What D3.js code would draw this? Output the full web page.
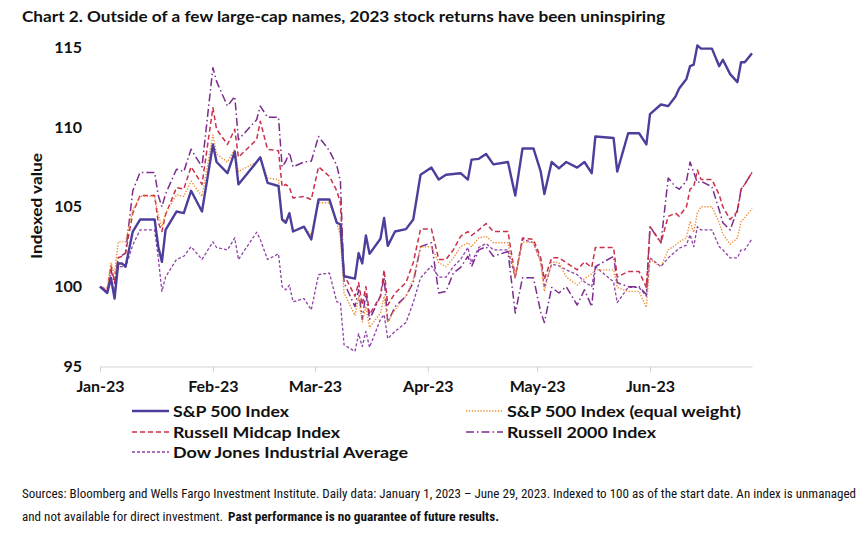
<!DOCTYPE html>
<html>
<head>
<meta charset="utf-8">
<script src="https://cdn.jsdelivr.net/npm/d3@7"></script>
<style>
  body { margin: 0; background: #fff; }
  text { font-family: Lato, "Open Sans", sans-serif; fill: #111; }
  .note { font-family: "Liberation Sans Narrow", "Roboto Condensed", Lato, sans-serif; }
</style>
</head>
<body>
<div class="canvas"></div>
<script>
// DATA (indexed to 100 at the start date)
const dates = [
  '2023-01-01','2023-01-03','2023-01-04','2023-01-05','2023-01-06','2023-01-07','2023-01-08','2023-01-10','2023-01-12','2023-01-16',
  '2023-01-17','2023-01-18','2023-01-19','2023-01-22','2023-01-24','2023-01-26','2023-01-29','2023-02-01','2023-02-02','2023-02-05',
  '2023-02-07','2023-02-08','2023-02-13','2023-02-14','2023-02-16','2023-02-19','2023-02-20','2023-02-21','2023-02-22','2023-02-23',
  '2023-02-26','2023-02-28','2023-03-02','2023-03-05','2023-03-07','2023-03-08','2023-03-09','2023-03-12','2023-03-13','2023-03-14',
  '2023-03-15','2023-03-16','2023-03-19','2023-03-20','2023-03-21','2023-03-23','2023-03-26','2023-03-28','2023-03-30','2023-04-02',
  '2023-04-04','2023-04-06','2023-04-08','2023-04-10','2023-04-12','2023-04-13','2023-04-15','2023-04-17','2023-04-19','2023-04-23',
  '2023-04-25','2023-04-27','2023-04-30','2023-05-02','2023-05-03','2023-05-05','2023-05-07','2023-05-09','2023-05-12','2023-05-14',
  '2023-05-16','2023-05-17','2023-05-22','2023-05-23','2023-05-26','2023-05-29','2023-05-31','2023-06-01','2023-06-04','2023-06-06',
  '2023-06-08','2023-06-09','2023-06-11','2023-06-12','2023-06-13','2023-06-14','2023-06-15','2023-06-18','2023-06-20','2023-06-21',
  '2023-06-23','2023-06-25','2023-06-26','2023-06-27','2023-06-29'
];

const sp500 = [
  100.0, 99.6, 100.55, 99.25, 101.45, 101.45, 101.25, 103.45, 104.2, 104.2,
  102.5, 101.55, 103.55, 104.7, 104.6, 106.0, 104.7, 108.9, 107.8, 107.1,
  108.45, 106.4, 107.8, 108.1, 106.5, 106.3, 104.2, 104.0, 104.6, 103.45,
  103.75, 102.95, 105.45, 105.45, 104.0, 103.9, 100.65, 100.5, 102.1, 101.45,
  103.2, 102.05, 103.0, 104.3, 102.55, 103.45, 103.6, 104.2, 107.0, 107.45,
  106.7, 107.0, 107.05, 107.1, 106.7, 107.95, 108.0, 108.3, 107.65, 107.8,
  105.7, 108.65, 108.65, 107.2, 105.8, 107.8, 107.4, 107.8, 107.45, 107.8,
  107.1, 109.4, 109.3, 107.2, 109.6, 109.6, 108.9, 110.8, 111.4, 111.3,
  111.9, 112.4, 113.0, 113.8, 113.9, 115.1, 114.9, 114.9, 113.8, 114.2,
  113.3, 112.8, 114.05, 114.05, 114.6
];

const spEqual = [
  100.0, 99.9, 101.5, 100.8, 102.8, 102.8, 102.8, 104.8, 105.65, 105.65,
  104.5, 103.75, 104.6, 105.75, 105.65, 106.6, 105.65, 109.5, 108.3, 107.8,
  108.6, 107.2, 107.8, 108.1, 106.8, 106.7, 104.3, 104.1, 104.5, 103.5,
  103.7, 103.25, 105.25, 105.25, 104.0, 103.15, 99.6, 98.2, 99.35, 97.8,
  98.75, 97.45, 98.35, 99.4, 97.8, 98.55, 99.4, 100.45, 102.5, 102.5,
  101.5, 101.25, 101.8, 102.5, 102.75, 102.5, 103.05, 103.15, 102.75, 102.75,
  100.6, 102.8, 102.75, 101.5, 99.7, 101.55, 101.5, 100.6, 100.1, 100.5,
  100.8, 101.05, 101.05, 99.95, 99.7, 99.7, 98.7, 101.7, 101.25, 102.3,
  102.6, 102.8, 103.05, 104.1, 103.4, 104.6, 105.0, 105.0, 104.0, 103.3,
  102.65, 103.05, 104.1, 104.3, 104.9
];

const midcap = [
  100.0, 99.8, 101.3, 100.3, 101.8, 101.9, 102.1, 104.6, 105.7, 105.7,
  104.0, 103.45, 104.5, 106.2, 106.1, 107.5, 106.4, 111.2, 109.85, 108.9,
  109.85, 108.1, 109.2, 110.35, 108.6, 108.5, 106.25, 106.4, 106.2, 105.55,
  105.65, 105.45, 107.5, 106.9, 106.0, 105.25, 100.75, 99.4, 100.25, 98.85,
  100.0, 98.25, 99.4, 101.05, 98.85, 99.6, 100.25, 101.5, 103.6, 103.6,
  101.7, 101.7, 102.3, 103.15, 103.45, 103.2, 103.55, 103.95, 103.45, 103.45,
  100.6, 103.05, 102.95, 101.8, 100.45, 101.8, 101.8, 101.5, 101.05, 101.55,
  101.2, 102.45, 102.45, 100.6, 100.95, 100.95, 99.95, 103.75, 102.75, 104.4,
  104.6, 104.4, 105.0, 106.1, 106.25, 107.3, 106.7, 106.7, 105.75, 105.0,
  104.2, 104.7, 106.1, 106.4, 107.15
];

const russell2000 = [
  100.0, 99.6, 101.05, 100.2, 101.8, 101.95, 102.1, 106.0, 107.15, 107.15,
  105.7, 105.0, 105.8, 107.35, 107.2, 108.6, 107.5, 113.7, 112.85, 111.3,
  111.9, 109.2, 110.45, 111.3, 110.6, 110.6, 107.5, 107.85, 108.4, 107.5,
  107.8, 107.85, 109.4, 108.5, 107.6, 106.6, 100.25, 98.75, 99.8, 97.95,
  99.6, 97.95, 99.4, 100.6, 97.75, 98.75, 99.4, 100.25, 102.5, 102.75,
  99.6, 99.7, 100.85, 101.2, 101.9, 101.25, 102.3, 102.5, 101.9, 102.2,
  98.35, 100.55, 100.55, 98.4, 97.75, 99.95, 99.6, 100.0, 98.85, 99.8,
  98.75, 101.25, 101.9, 100.25, 100.0, 100.0, 99.5, 103.75, 102.75, 106.8,
  106.25, 106.1, 106.6, 107.8, 107.15, 106.5, 106.6, 106.25, 104.8, 104.0,
  103.55, 104.8, 106.1, 106.4, 107.15
];

const dowJones = [
  100.0, 99.7, 100.5, 99.6, 101.25, 101.25, 101.2, 102.6, 103.55, 103.55,
  101.8, 99.7, 100.6, 101.7, 101.9, 102.5, 101.7, 102.8, 102.45, 102.3,
  103.05, 101.7, 103.4, 102.95, 101.7, 102.05, 100.0, 99.8, 100.1, 99.05,
  99.25, 98.55, 100.75, 100.85, 99.05, 99.0, 96.35, 95.95, 97.05, 96.25,
  97.2, 96.2, 97.95, 98.25, 96.75, 97.2, 97.75, 99.0, 100.55, 101.3,
  100.6, 100.6, 101.25, 101.7, 102.45, 101.5, 102.45, 102.7, 102.3, 102.3,
  100.55, 102.95, 102.75, 101.6, 99.95, 101.4, 101.3, 101.05, 100.75, 100.3,
  100.0, 101.25, 100.3, 99.0, 99.95, 99.95, 99.4, 101.8, 101.25, 101.8,
  102.2, 102.4, 102.6, 103.25, 102.5, 103.75, 103.55, 103.55, 102.5, 102.3,
  101.8, 101.8, 102.3, 102.3, 103.0
];

const yTicks = [95, 100, 105, 110, 115];
const monthTicks = ['2023-01-01', '2023-02-01', '2023-03-01', '2023-04-01', '2023-05-01', '2023-06-01'];

// series styles (legend order)
const series = [
  { name: 'S&P 500 Index', values: sp500, color: '#4b3f9b', width: 2.4, dash: null, col: 0, row: 0 },
  { name: 'S&P 500 Index (equal weight)', values: spEqual, color: '#ee8a2f', width: 1.4, dash: '1.3,1.6', col: 1, row: 0 },
  { name: 'Russell Midcap Index', values: midcap, color: '#c9304c', width: 1.5, dash: '5,3', col: 0, row: 1 },
  { name: 'Russell 2000 Index', values: russell2000, color: '#7b2d8e', width: 1.5, dash: '8,3,1.5,3', col: 1, row: 1 },
  { name: 'Dow Jones Industrial Average', values: dowJones, color: '#8e42a8', width: 1.3, dash: '3,2', col: 0, row: 2 }
];

//************************************************************************/
// SETUP
const svg = d3.select('.canvas')
  .append('svg')
  .attr('width', 864)
  .attr('height', 533);

const margin = { top: 47, left: 100 };
const graphWidth = 652;
const graphHeight = 319.5;

const graph = svg.append('g')
  .attr('transform', `translate(${margin.left},${margin.top})`);

const parse = d3.timeParse('%Y-%m-%d');

const x = d3.scaleTime()
  .domain([parse('2023-01-01'), parse('2023-06-29')])
  .range([0, graphWidth]);

const y = d3.scaleLinear()
  .domain([95, 115])
  .range([graphHeight, 0]);

// title
svg.append('text')
  .attr('x', 22).attr('y', 22)
  .attr('font-size', 14.5).attr('font-weight', 'bold')
  .attr('textLength', 643).attr('lengthAdjust', 'spacingAndGlyphs')
  .text('Chart 2. Outside of a few large-cap names, 2023 stock returns have been uninspiring');

// axes
const xAxis = d3.axisBottom(x)
  .tickValues(monthTicks.map(parse))
  .tickFormat(d3.timeFormat('%b-%y'))
  .tickSize(6)
  .tickSizeOuter(0)
  .tickPadding(8);

const xAxisGroup = graph.append('g')
  .attr('transform', `translate(0,${graphHeight})`)
  .call(xAxis);
xAxisGroup.select('.domain').attr('stroke', '#d4d4d4');
xAxisGroup.selectAll('.tick line').attr('stroke', '#d4d4d4');
xAxisGroup.selectAll('text')
  .attr('font-size', 16).attr('font-weight', 'bold')
  .attr('fill', '#111').style('font-family', 'Lato, "Open Sans", sans-serif');

const yAxis = d3.axisLeft(y)
  .tickValues(yTicks)
  .tickSize(0)
  .tickPadding(18);

const yAxisGroup = graph.append('g').call(yAxis);
yAxisGroup.select('.domain').remove();
yAxisGroup.selectAll('text')
  .attr('font-size', 16).attr('font-weight', 'bold')
  .attr('fill', '#111').style('font-family', 'Lato, "Open Sans", sans-serif');

svg.append('text')
  .attr('transform', 'translate(42,206) rotate(-90)')
  .attr('text-anchor', 'middle')
  .attr('font-size', 16).attr('font-weight', 'bold')
  .attr('textLength', 106).attr('lengthAdjust', 'spacingAndGlyphs')
  .text('Indexed value');

// lines
const line = d3.line()
  .x((d, i) => x(parse(dates[i])))
  .y(d => y(d));

graph.selectAll('path.series')
  .data(series.slice().reverse())
  .enter()
  .append('path')
  .attr('class', 'series')
  .attr('fill', 'none')
  .attr('stroke', d => d.color)
  .attr('stroke-width', d => d.width)
  .attr('stroke-dasharray', d => d.dash)
  .attr('stroke-linejoin', 'round')
  .attr('d', d => line(d.values));

// legend
const legendCols = [132, 466];
const legendRows = [411, 432, 452];
const legendTextLen = [116, 234, 167, 149, 235];

const legend = svg.selectAll('g.legend')
  .data(series)
  .enter()
  .append('g')
  .attr('class', 'legend')
  .attr('transform', d => `translate(${legendCols[d.col]},${legendRows[d.row]})`);

legend.append('line')
  .attr('x1', 0).attr('x2', 37)
  .attr('stroke', d => d.color)
  .attr('stroke-width', d => d.width)
  .attr('stroke-dasharray', d => d.dash);

legend.append('text')
  .attr('x', 41).attr('dy', '0.36em')
  .attr('font-size', 16).attr('font-weight', 'bold')
  .attr('textLength', (d, i) => legendTextLen[i])
  .attr('lengthAdjust', 'spacingAndGlyphs')
  .text(d => d.name);

// footnote
svg.append('text')
  .attr('class', 'note')
  .attr('x', 22).attr('y', 498)
  .attr('font-size', 12.5).attr('fill', '#222')
  .attr('textLength', 834).attr('lengthAdjust', 'spacingAndGlyphs')
  .text('Sources: Bloomberg and Wells Fargo Investment Institute. Daily data: January 1, 2023 \u2013 June 29, 2023. Indexed to 100 as of the start date.  An index is unmanaged');

svg.append('text')
  .attr('class', 'note')
  .attr('x', 22).attr('y', 521)
  .attr('font-size', 12.5).attr('fill', '#222')
  .attr('textLength', 201).attr('lengthAdjust', 'spacingAndGlyphs')
  .text('and not available for direct investment.');

svg.append('text')
  .attr('class', 'note')
  .attr('x', 228).attr('y', 521)
  .attr('font-size', 12.5).attr('font-weight', 'bold')
  .attr('textLength', 271).attr('lengthAdjust', 'spacingAndGlyphs')
  .text('Past performance is no guarantee of future results.');
</script>
</body>
</html>
